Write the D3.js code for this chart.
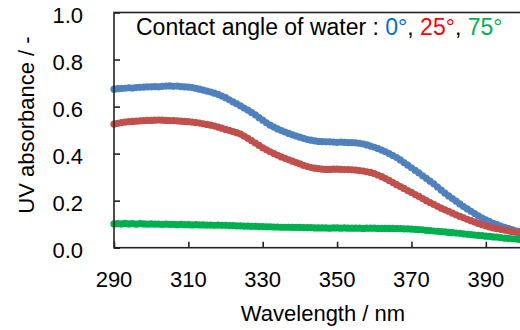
<!DOCTYPE html>
<html>
<head>
<meta charset="utf-8">
<script src="https://cdn.jsdelivr.net/npm/d3@7"></script>
<style>
  body { margin: 0; background: #fff; }
  svg { display: block; font-family: 'Liberation Sans', Arial, Helvetica, sans-serif; }
  .axis-label { font-size: 22px; fill: #000; }
</style>
</head>
<body>
<svg class="uvChart"></svg>
<script>
// wavelength (nm), one point every 1 nm from 290 to 400
const wavelengths = d3.range(290, 401);

// contact angle 0 deg
const angle0 = [
  0.674, 0.676, 0.677, 0.678, 0.680, 0.679, 0.681, 0.682, 0.683, 0.684,
  0.684, 0.685, 0.684, 0.686, 0.687, 0.688, 0.686, 0.687, 0.685, 0.684,
  0.683, 0.681, 0.677, 0.674, 0.670, 0.666, 0.662, 0.657, 0.652, 0.645,
  0.638, 0.629, 0.620, 0.612, 0.603, 0.594, 0.585, 0.575, 0.565, 0.553,
  0.542, 0.531, 0.521, 0.513, 0.505, 0.498, 0.492, 0.486, 0.480, 0.475,
  0.470, 0.465, 0.460, 0.457, 0.454, 0.452, 0.451, 0.450, 0.450, 0.449,
  0.448, 0.449, 0.448, 0.447, 0.447, 0.446, 0.444, 0.441, 0.437, 0.432,
  0.427, 0.421, 0.415, 0.408, 0.400, 0.392, 0.383, 0.373, 0.362, 0.351,
  0.340, 0.329, 0.318, 0.306, 0.295, 0.283, 0.272, 0.258, 0.245, 0.232,
  0.220, 0.209, 0.198, 0.186, 0.175, 0.165, 0.155, 0.145, 0.135, 0.126,
  0.118, 0.111, 0.104, 0.098, 0.092, 0.087, 0.082, 0.077, 0.072, 0.068,
  0.065
];

// contact angle 25 deg
const angle25 = [
  0.525, 0.529, 0.532, 0.534, 0.536, 0.537, 0.538, 0.539, 0.540, 0.541,
  0.541, 0.542, 0.543, 0.542, 0.541, 0.540, 0.540, 0.539, 0.538, 0.537,
  0.536, 0.534, 0.532, 0.530, 0.527, 0.524, 0.521, 0.517, 0.513, 0.508,
  0.503, 0.499, 0.494, 0.489, 0.483, 0.474, 0.465, 0.455, 0.445, 0.435,
  0.425, 0.416, 0.408, 0.400, 0.393, 0.386, 0.380, 0.374, 0.368, 0.362,
  0.356, 0.350, 0.345, 0.341, 0.338, 0.336, 0.334, 0.333, 0.333, 0.334,
  0.334, 0.333, 0.332, 0.332, 0.331, 0.330, 0.328, 0.326, 0.323, 0.320,
  0.315, 0.309, 0.302, 0.294, 0.286, 0.277, 0.268, 0.260, 0.252, 0.243,
  0.235, 0.226, 0.218, 0.209, 0.200, 0.192, 0.184, 0.176, 0.168, 0.161,
  0.155, 0.147, 0.140, 0.133, 0.127, 0.121, 0.115, 0.109, 0.103, 0.098,
  0.093, 0.088, 0.084, 0.081, 0.078, 0.075, 0.072, 0.069, 0.066, 0.063,
  0.061
];

// contact angle 75 deg
const angle75 = [
  0.101, 0.102, 0.101, 0.103, 0.101, 0.102, 0.100, 0.102, 0.101, 0.100,
  0.101, 0.100, 0.100, 0.099, 0.100, 0.099, 0.099, 0.098, 0.099, 0.098,
  0.098, 0.097, 0.098, 0.097, 0.097, 0.096, 0.096, 0.095, 0.096, 0.095,
  0.095, 0.094, 0.094, 0.093, 0.093, 0.092, 0.092, 0.091, 0.091, 0.090,
  0.090, 0.089, 0.089, 0.088, 0.088, 0.087, 0.087, 0.087, 0.086, 0.086,
  0.086, 0.085, 0.085, 0.085, 0.084, 0.084, 0.084, 0.084, 0.083, 0.084,
  0.084, 0.083, 0.084, 0.083, 0.083, 0.083, 0.083, 0.082, 0.083, 0.083,
  0.083, 0.082, 0.082, 0.082, 0.082, 0.082, 0.081, 0.081, 0.080, 0.080,
  0.079, 0.078, 0.077, 0.076, 0.074, 0.073, 0.071, 0.070, 0.068, 0.067,
  0.065, 0.064, 0.062, 0.061, 0.059, 0.057, 0.056, 0.054, 0.052, 0.051,
  0.049, 0.048, 0.046, 0.045, 0.043, 0.041, 0.040, 0.038, 0.037, 0.035,
  0.034
];

const xTicks = [290, 310, 330, 350, 370, 390];
const yTicks = [0, 0.2, 0.4, 0.6, 0.8, 1.0];

const app = (function () {
  'use strict';

  function init () {
    const W = 520;
    const H = 330;
    const margin = { top: 12.5, left: 114 };
    const plotRight = 523; // 400 nm sits just past the window edge
    const plotBottom = 247.7;

    const svg = d3.select('.uvChart')
      .attr('width', W)
      .attr('height', H);

    const xScale = d3.scaleLinear()
      .domain([290, 400])
      .range([margin.left, plotRight]);

    const yScale = d3.scaleLinear()
      .domain([0, 1])
      .range([plotBottom, margin.top]);

    // markers
    const series = [
      { values: angle0, color: '#4F81BD' },
      { values: angle25, color: '#C0504D' },
      { values: angle75, color: '#00B050' }
    ];

    series.forEach(function (s) {
      svg.append('g')
        .selectAll('circle')
        .data(s.values)
        .enter()
        .append('circle')
        .attr('cx', function (d, i) { return xScale(wavelengths[i]); })
        .attr('cy', function (d) { return yScale(d); })
        .attr('r', 3.6)
        .attr('fill', s.color);
    });

    // plot frame
    svg.append('rect')
      .attr('x', margin.left)
      .attr('y', margin.top)
      .attr('width', plotRight - margin.left)
      .attr('height', plotBottom - margin.top)
      .attr('fill', 'none')
      .attr('stroke', '#222')
      .attr('stroke-width', 1.6);

    // x axis: inward ticks, labels drawn separately
    const xAxis = d3.axisBottom(xScale)
      .tickValues(xTicks)
      .tickSizeInner(-6)
      .tickSizeOuter(0)
      .tickFormat('');
    svg.append('g')
      .attr('transform', 'translate(0,' + plotBottom + ')')
      .call(xAxis)
      .call(function (g) { g.select('.domain').remove(); })
      .selectAll('line')
      .attr('stroke', '#222')
      .attr('stroke-width', 1.6);

    const yAxis = d3.axisLeft(yScale)
      .tickValues(yTicks)
      .tickSizeInner(-6)
      .tickSizeOuter(0)
      .tickFormat('');
    svg.append('g')
      .attr('transform', 'translate(' + margin.left + ',0)')
      .call(yAxis)
      .call(function (g) { g.select('.domain').remove(); })
      .selectAll('line')
      .attr('stroke', '#222')
      .attr('stroke-width', 1.6);

    // tick labels
    svg.append('g')
      .selectAll('text')
      .data(xTicks)
      .enter()
      .append('text')
      .attr('class', 'axis-label')
      .attr('x', function (d) { return xScale(d); })
      .attr('y', 287)
      .style('text-anchor', 'middle')
      .text(function (d) { return d; });

    svg.append('g')
      .selectAll('text')
      .data(yTicks)
      .enter()
      .append('text')
      .attr('class', 'axis-label')
      .attr('x', 83)
      .attr('y', function (d) { return yScale(d) + 10.5; })
      .style('text-anchor', 'end')
      .text(function (d) { return d3.format('.1f')(d); });

    // axis titles
    svg.append('text')
      .attr('class', 'axis-label')
      .attr('x', 323)
      .attr('y', 321)
      .style('text-anchor', 'middle')
      .text('Wavelength / nm');

    svg.append('text')
      .attr('class', 'axis-label')
      .attr('transform', 'translate(34,125) rotate(-90)')
      .style('text-anchor', 'middle')
      .text('UV absorbance / -');

    // legend line
    const legend = svg.append('text')
      .attr('x', 136)
      .attr('y', 35)
      .style('font-size', '23px');
    legend.append('tspan').attr('fill', '#000').text('Contact angle of water : ');
    legend.append('tspan').attr('fill', '#0070C0').text('0°');
    legend.append('tspan').attr('fill', '#000').text(', ');
    legend.append('tspan').attr('fill', '#FF0000').text('25°');
    legend.append('tspan').attr('fill', '#000').text(', ');
    legend.append('tspan').attr('fill', '#00B050').text('75°');
  }

  return {
    init: init
  };
}());

window.addEventListener('load', app.init);
</script>
</body>
</html>
